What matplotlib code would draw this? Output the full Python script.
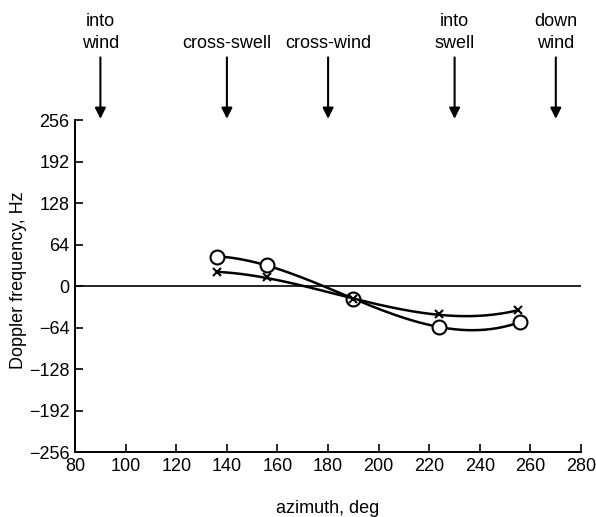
import matplotlib.pyplot as plt
import numpy as np

plt.rcParams['font.family'] = ['Liberation Sans', 'DejaVu Sans']

# Doppler frequency against azimuth, two runs
azimuth_circ = [136, 156, 190, 224, 256]
doppler_circ = [46, 33, -20, -62, -55]
azimuth_cross = [136, 156, 190, 224, 255]
doppler_cross = [22, 14, -20, -43, -37]

# direction markers along the top
dir_angles = [90, 140, 180, 230, 270]
dir_labels = ['into\nwind', 'cross-swell', 'cross-wind', 'into\nswell', 'down\nwind']

yticks = [-256, -192, -128, -64, 0, 64, 128, 192, 256]
xticks = list(range(80, 281, 20))

fig = plt.figure(figsize=(5.96, 5.17), dpi=100)
ax = fig.add_axes([0.126, 0.125, 0.849, 0.642])

ax.axhline(0, color='black', lw=1.2)

for az, dop, mk, ms in [(azimuth_circ, doppler_circ, 'o', 10),
                        (azimuth_cross, doppler_cross, 'x', 6)]:
    # smooth cubic through the measured points
    coef = np.polyfit(az, dop, 3)
    xs = np.linspace(min(az), max(az), 200)
    ax.plot(xs, np.polyval(coef, xs), color='black', lw=1.8)
    ax.plot(az, dop, linestyle='none', marker=mk, ms=ms, mfc='white',
            mec='black', mew=1.5)

ax.set_xlim(80, 280)
ax.set_ylim(-256, 256)
ax.set_xticks(xticks)
ax.set_yticks(yticks)
ax.set_yticklabels([str(v).replace('-', '\u2212') for v in yticks])
ax.tick_params(direction='in', length=6, width=1.2, labelsize=13, pad=4)
for s in ['top', 'right']:
    ax.spines[s].set_visible(False)
for s in ['left', 'bottom']:
    ax.spines[s].set_linewidth(1.4)

ax.set_xlabel('azimuth, deg', fontsize=13, labelpad=18)
ax.set_ylabel('Doppler frequency, Hz', fontsize=13)
ax.yaxis.set_label_coords(-0.095, 0.52)

for ang, lab in zip(dir_angles, dir_labels):
    ax.annotate('', xy=(ang, 1.005), xytext=(ang, 1.19),
                xycoords=('data', 'axes fraction'),
                textcoords=('data', 'axes fraction'),
                arrowprops=dict(arrowstyle='-|>', color='black', lw=1.5,
                                mutation_scale=16, shrinkA=0, shrinkB=0))
    ax.text(ang, 1.205, lab, transform=ax.get_xaxis_transform(),
            ha='center', va='bottom', fontsize=13, linespacing=1.45)

fig.savefig('out.png', dpi=100)
